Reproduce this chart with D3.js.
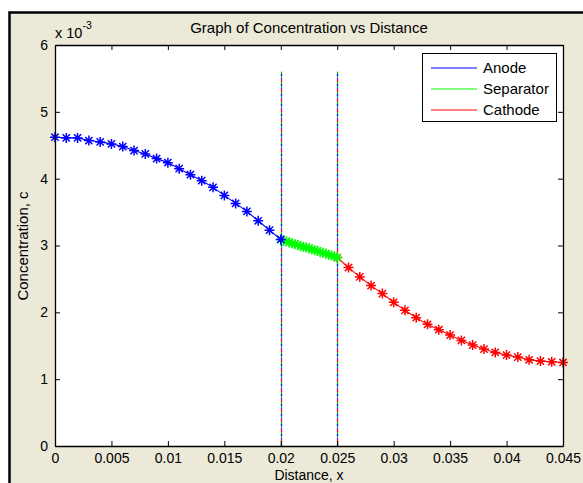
<!DOCTYPE html>
<meta charset="utf-8">
<head>
<style>
  body { margin: 0; background: #fff; }
  text { font-family: Arial, "Liberation Sans", sans-serif; fill: #000; }
</style>
<script src="https://d3js.org/d3.v7.min.js"></script>
</head>
<body>
<div id="chart"></div>
<script>
// x ticks and y ticks (y in units of 1e-3)
var xTicks = [0, 0.005, 0.01, 0.015, 0.02, 0.025, 0.03, 0.035, 0.04, 0.045];
var yTicks = [0, 1, 2, 3, 4, 5, 6];

// anode: 0 .. 0.02
var anodeX = [0, 0.001, 0.002, 0.003, 0.004, 0.005, 0.006, 0.007, 0.008, 0.009, 0.010,
              0.011, 0.012, 0.013, 0.014, 0.015, 0.016, 0.017, 0.018, 0.019, 0.020];
var anodeC = [4.62, 4.61, 4.61, 4.57, 4.55, 4.52, 4.48, 4.42, 4.37, 4.30, 4.24,
              4.15, 4.06, 3.97, 3.87, 3.75, 3.63, 3.51, 3.37, 3.23, 3.09];

// separator: 0.02 .. 0.025
var sepX = [0.02, 0.02025, 0.0205, 0.02075, 0.021, 0.02125, 0.0215, 0.02175, 0.022, 0.02225, 0.0225,
            0.02275, 0.023, 0.02325, 0.0235, 0.02375, 0.024, 0.02425, 0.0245, 0.02475, 0.025];
var sepC = [3.09, 3.07, 3.06, 3.05, 3.03, 3.02, 3.01, 2.99, 2.98, 2.97, 2.96,
            2.94, 2.93, 2.92, 2.90, 2.89, 2.88, 2.86, 2.85, 2.84, 2.82];

// cathode: 0.025 .. 0.045
var cathX = [0.025, 0.026, 0.027, 0.028, 0.029, 0.030, 0.031, 0.032, 0.033, 0.034, 0.035,
             0.036, 0.037, 0.038, 0.039, 0.040, 0.041, 0.042, 0.043, 0.044, 0.045];
var cathC = [2.82, 2.67, 2.53, 2.40, 2.28, 2.15, 2.03, 1.92, 1.82, 1.74, 1.66,
             1.58, 1.51, 1.45, 1.40, 1.36, 1.33, 1.29, 1.27, 1.26, 1.25];

var boundaries = [0.02, 0.025];
var boundaryTop = 5.6;

var series = [
  { name: "Anode", color: "#0000ff", xs: anodeX, ys: anodeC },
  { name: "Separator", color: "#00ff00", xs: sepX, ys: sepC },
  { name: "Cathode", color: "#ff0000", xs: cathX, ys: cathC }
];

var W = 583, H = 483;
var svg = d3.select("#chart").append("svg")
  .attr("width", W).attr("height", H);

// figure background
svg.append("rect").attr("x", 9).attr("y", 12).attr("width", W).attr("height", H)
  .attr("fill", "#ece9d8");
svg.append("path").attr("d", "M9.5," + H + "V12.5H" + W)
  .attr("fill", "none").attr("stroke", "#000").attr("stroke-width", 2.5);

var x = d3.scaleLinear().domain([0, 0.045]).range([55, 563]);
var y = d3.scaleLinear().domain([0, 6]).range([446, 45]);

svg.append("rect")
  .attr("x", x(0)).attr("y", y(6))
  .attr("width", x(0.045) - x(0)).attr("height", y(0) - y(6))
  .attr("fill", "#fff");

// boundary lines (multi-coloured dotted look)
var dashCols = ["#0000ff", "#00c000", "#ff0000", "#c000c0", "#00b0b0"];
boundaries.forEach(function (b) {
  dashCols.forEach(function (c, i) {
    svg.append("line")
      .attr("x1", Math.round(x(b)) + 0.5).attr("x2", Math.round(x(b)) + 0.5)
      .attr("y1", y(0)).attr("y2", y(boundaryTop))
      .attr("stroke", c).attr("stroke-width", 1.3)
      .attr("stroke-dasharray", "2,8")
      .attr("stroke-dashoffset", -2 * i);
  });
});

// curves, drawn so the anode sits on top at x = 0.02 and separator at x = 0.025
var line = d3.line().x(function (d) { return x(d[0]); }).y(function (d) { return y(d[1]); });
var r = 5, rd = 3.6;
var star = "M" + (-r) + ",0H" + r + "M0," + (-r) + "V" + r +
           "M" + (-rd) + "," + (-rd) + "L" + rd + "," + rd +
           "M" + (-rd) + "," + rd + "L" + rd + "," + (-rd);

[series[2], series[1], series[0]].forEach(function (s) {
  var pts = s.xs.map(function (v, i) { return [v, s.ys[i]]; });
  var g = svg.append("g");
  g.append("path").datum(pts).attr("d", line)
    .attr("fill", "none").attr("stroke", s.color).attr("stroke-width", 1.1);
  g.selectAll("path.m").data(pts).enter().append("path")
    .attr("class", "m")
    .attr("transform", function (d) { return "translate(" + x(d[0]) + "," + y(d[1]) + ")"; })
    .attr("d", star)
    .attr("fill", "none").attr("stroke", s.color).attr("stroke-width", 1.5);
});

// axes
function fmt(d) { return d === 0 ? "0" : String(d); }
var axB = svg.append("g").attr("transform", "translate(0," + y(0) + ")")
  .call(d3.axisBottom(x).tickValues(xTicks).tickFormat(fmt).tickSizeInner(-5).tickSizeOuter(0).tickPadding(7));
var axT = svg.append("g").attr("transform", "translate(0," + y(6) + ")")
  .call(d3.axisTop(x).tickValues(xTicks).tickFormat("").tickSizeInner(-5).tickSizeOuter(0));
var axL = svg.append("g").attr("transform", "translate(" + x(0) + ",0)")
  .call(d3.axisLeft(y).tickValues(yTicks).tickFormat(fmt).tickSizeInner(-5).tickSizeOuter(0).tickPadding(7));
var axR = svg.append("g").attr("transform", "translate(" + x(0.045) + ",0)")
  .call(d3.axisRight(y).tickValues(yTicks).tickFormat("").tickSizeInner(-5).tickSizeOuter(0));
[axB, axT, axL, axR].forEach(function (a) {
  a.select(".domain").attr("stroke", "#000").attr("stroke-width", 1.3);
  a.selectAll(".tick line").attr("stroke", "#000");
  a.selectAll("text").style("font-size", "14px").attr("fill", "#000");
});

// exponent label
var ex = svg.append("text").attr("x", 55).attr("y", 38).style("font-size", "14.5px");
ex.append("tspan").text("x 10");
ex.append("tspan").attr("dy", -9).style("font-size", "10.5px").text("-3");

// title and axis labels
svg.append("text").attr("x", 309).attr("y", 33).attr("text-anchor", "middle")
  .style("font-size", "15px").text("Graph of Concentration vs Distance");
svg.append("text").attr("x", 309).attr("y", 480).attr("text-anchor", "middle")
  .style("font-size", "14px").text("Distance, x");
svg.append("text").attr("transform", "translate(28,246) rotate(-90)").attr("text-anchor", "middle")
  .style("font-size", "15px").text("Concentration, c");

// legend
var lg = svg.append("g");
lg.append("rect").attr("x", 422.5).attr("y", 53.5).attr("width", 134).attr("height", 68)
  .attr("fill", "#fff").attr("stroke", "#000").attr("stroke-width", 1);
series.forEach(function (s, i) {
  var yy = 68 + i * 21;
  lg.append("line").attr("x1", 431).attr("x2", 477).attr("y1", yy).attr("y2", yy)
    .attr("stroke", s.color).attr("stroke-width", 1);
  lg.append("text").attr("x", 483).attr("y", yy + 5).style("font-size", "15px").text(s.name);
});
</script>
</body>
